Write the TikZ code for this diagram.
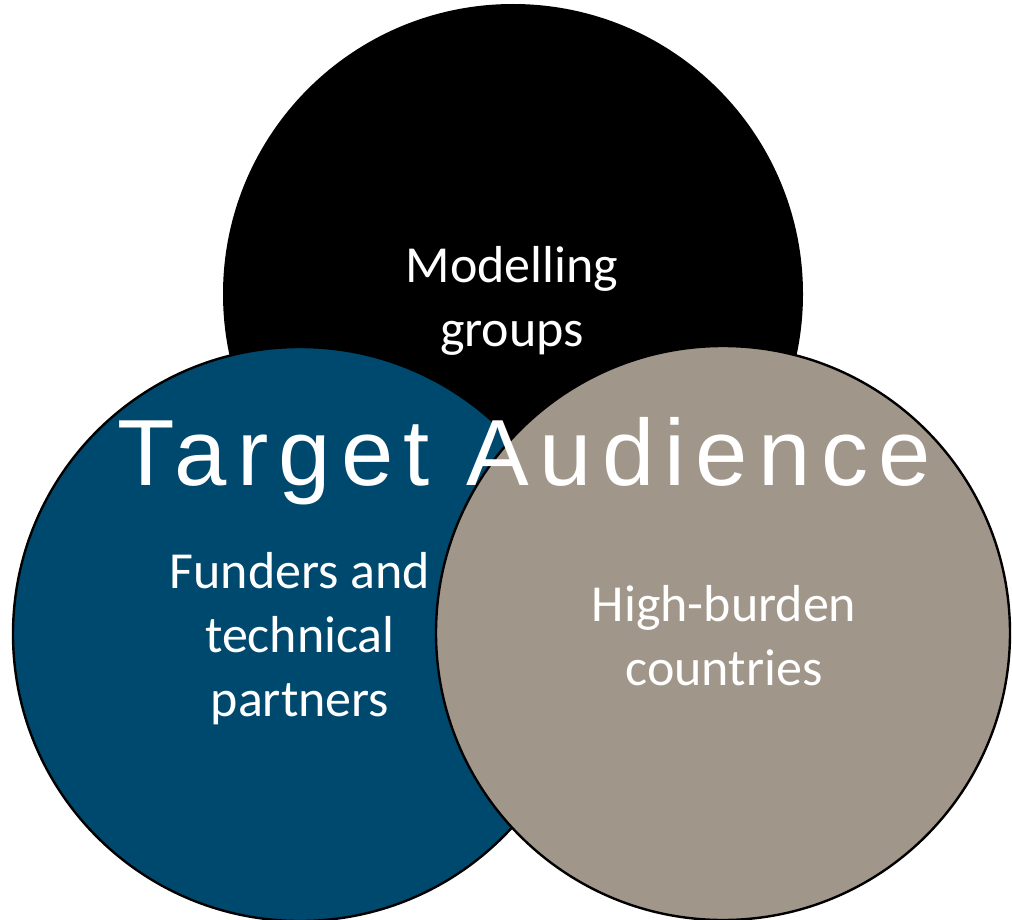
\documentclass[tikz,border=0pt]{standalone}
\usepackage{fontspec}
\newfontfamily\calfont{Carlito}
\newfontfamily\titlefont[LetterSpace=11]{Liberation Sans}
\definecolor{navy}{RGB}{0,73,110}
\definecolor{taupe}{RGB}{161,150,138}
\begin{document}
\begin{tikzpicture}[x=1pt,y=-1pt]
\tikzset{
  ring/.style={draw=black, line width=2.4pt},
  lbl/.style={text=white, font=\calfont\fontsize{52}{64}\selectfont, align=center, anchor=base, inner sep=0pt},
  ttl/.style={text=white, font=\titlefont\fontsize{94}{110}\selectfont, anchor=base, inner sep=0pt}
}
\useasboundingbox (0,0) rectangle (1012,920);
\fill[black] (513,294) circle [radius=290pt];
\fill[navy, ring] (300,634) circle [radius=287pt];
\fill[taupe, ring] (723,633) circle [radius=287pt];
\node[lbl] (modelling) at (512,346) {Modelling\\groups};
\node[lbl] (funders) at (300,716) {Funders and\\technical\\partners};
\node[lbl] (burden) at (724,685) {High-burden\\countries};
\node[ttl] (target) at (524,485) {Target Audience};
\end{tikzpicture}
\end{document}
